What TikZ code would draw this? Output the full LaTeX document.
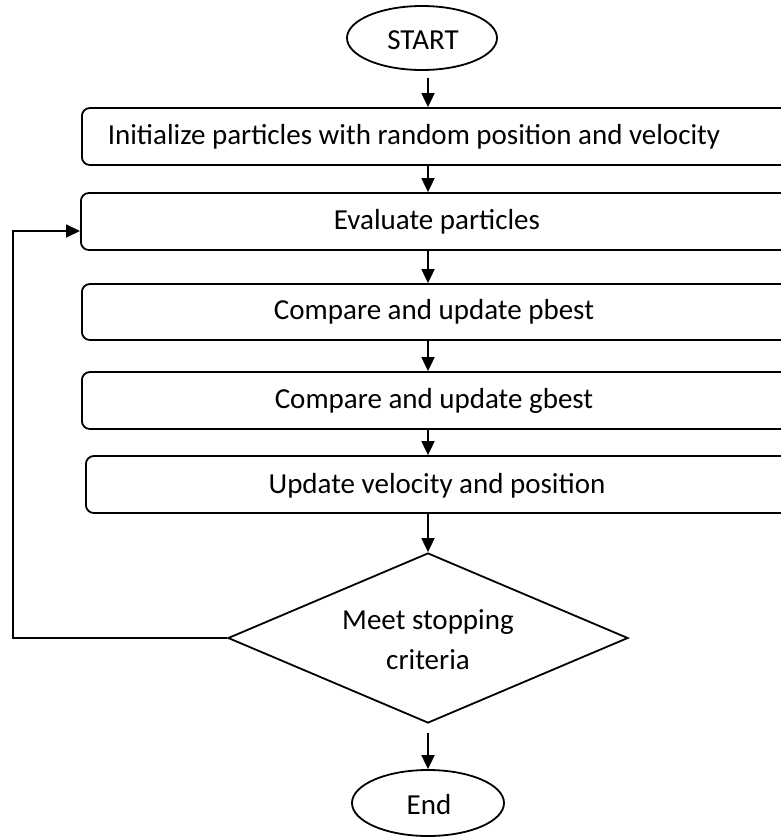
\documentclass[tikz,border=0pt]{standalone}
\usepackage{fontspec}
\setmainfont{Carlito}
\usetikzlibrary{arrows.meta,shapes.geometric}
\begin{document}
\begin{tikzpicture}[x=1pt,y=-1pt,
  line width=1.8pt,
  every node/.style={font=\fontsize{29}{35}\selectfont},
  procbox/.style={draw, rounded corners=8pt, minimum width=720pt, minimum height=57pt, inner sep=0pt, anchor=west},
  lbl/.style={inner sep=0pt},
  arr/.style={-{Triangle[length=14pt,width=13pt]}},
  oval/.style={draw, ellipse, inner sep=0pt},
  decision/.style={draw, diamond, inner sep=0pt, minimum width=400pt, minimum height=170pt}]
\clip (0,0) rectangle (781,839);
\coordinate (sp) at (428,0);
\node[oval, minimum width=150pt, minimum height=64pt] (start) at (422,38) {};
\node[lbl] (tstart) at (423,40) {START};
\node[procbox] (box1) at (81,136.5) {};
\node[procbox] (box2) at (80,221.5) {};
\node[procbox, minimum height=56pt] (box3) at (81,312) {};
\node[procbox] (box4) at (81,400.5) {};
\node[procbox] (box5) at (85,484.5) {};
\node[lbl] (t1) at (414,137) {Initialize particles with random position and velocity};
\node[lbl] (t2) at (437,222) {Evaluate particles};
\node[lbl] (t3) at (434,312) {Compare and update pbest};
\node[lbl] (t4) at (434,401) {Compare and update gbest};
\node[lbl] (t5) at (437,486) {Update velocity and position};
\node[decision] (dia) at (428,638) {};
\node[lbl, align=center, font=\fontsize{29}{40}\selectfont] (tdia) at (428,640) {Meet stopping\\criteria};
\node[oval, minimum width=152pt, minimum height=66pt] (endo) at (428,803) {};
\node[lbl] (tend) at (429,805) {End};
\coordinate (fb) at (13,231);
\draw[arr, shorten <=7pt] (start.south -| sp) -- (box1.north -| sp);
\draw[arr] (box1.south -| sp) -- (box2.north -| sp);
\draw[arr] (box2.south -| sp) -- (box3.north -| sp);
\draw[arr] (box3.south -| sp) -- (box4.north -| sp);
\draw[arr] (box4.south -| sp) -- (box5.north -| sp);
\draw[arr] (box5.south -| sp) -- (dia.north);
\draw[arr, shorten <=9pt] (dia.south) -- (endo.north);
\draw[arr] (dia.west) -| (fb) -- (fb -| box2.west);
\end{tikzpicture}
\end{document}
